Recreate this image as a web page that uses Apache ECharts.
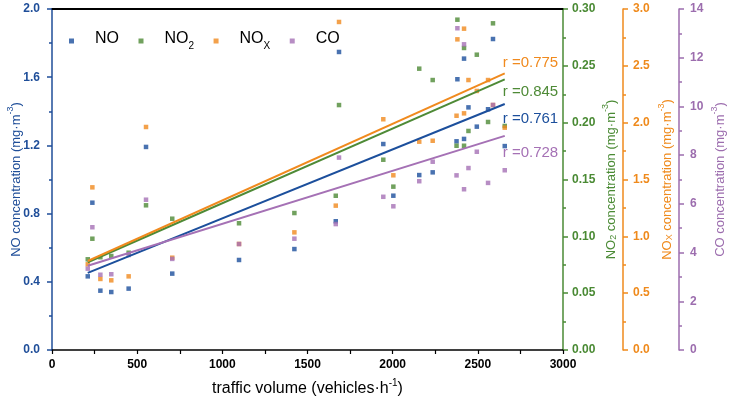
<!DOCTYPE html>
<html>
<head>
<meta charset="utf-8">
<script src="https://cdn.jsdelivr.net/npm/echarts@6/dist/echarts.min.js"></script>
<style>
html,body{margin:0;padding:0;background:#fff;}
#c{width:730px;height:409px;}
</style>
</head>
<body>
<div id="c"></div>
<script>
// ---- data ----
const traffic = [210, 237, 284, 348, 450, 552, 706, 1098, 1423, 1666, 1685, 1945, 2004, 2156, 2235, 2380, 2375, 2419, 2419, 2445, 2494, 2560, 2589, 2658];
const noVals  = [0.432, 0.864, 0.348, 0.340, 0.360, 1.191, 0.448, 0.528, 0.592, 0.755, 1.748, 1.208, 0.905, 1.026, 1.042, 1.588, 1.224, 1.709, 1.238, 1.423, 1.310, 1.412, 1.824, 1.196];
const no2Vals = [0.0798, 0.0979, 0.0816, 0.0827, 0.0856, 0.1273, 0.1155, 0.1115, 0.1205, 0.1357, 0.2155, 0.1674, 0.1437, 0.2475, 0.2375, 0.2906, 0.1797, 0.2657, 0.1797, 0.1927, 0.2598, 0.2006, 0.2874, 0.1971];
const noxVals = [0.754, 1.431, 0.625, 0.613, 0.648, 1.962, 0.812, 0.933, 1.035, 1.270, 2.886, 2.030, 1.537, 1.833, 1.841, 2.733, 2.061, 2.827, 2.082, 2.375, 2.279, 2.375, 2.155, 1.956];
const coVals  = [3.34, 5.04, 3.09, 3.11, 3.90, 6.17, 3.74, 4.35, 4.57, 5.17, 7.90, 6.29, 5.90, 6.93, 7.73, 13.21, 7.17, 12.55, 6.60, 7.47, 8.14, 6.86, 10.06, 7.38];
// fitted lines (start / end values at fitX)
const fitX   = [210, 2658];
const fitNO  = [0.452, 1.443];
const fitNO2 = [0.0772, 0.2381];
const fitNOx = [0.783, 2.434];
const fitCO  = [3.46, 8.79];
const rLabels = ['r =0.761', 'r =0.845', 'r =0.775', 'r =0.728'];
const xTicks = [0, 3000, 500];
// ---------------------------------------

const C_NO = '#1c4f9c', C_NO2 = '#4e8a36', C_NOX = '#f08a1e', C_CO = '#a571b5';
const AX_NO = '#1f4e99', AX_NO2 = '#4a8a34', AX_NOX = '#ef8a1c', AX_CO = '#9c6dae';
const FONT = '"Liberation Sans", Arial, sans-serif';

function pts(xs, ys){ return xs.map((x,i)=>[x, ys[i]]); }

function nameRich(color){
  return {
    a: {color: color, fontSize: 13, fontFamily: FONT, verticalAlign: 'bottom', lineHeight: 18, padding:[0,0,0,0]},
    s: {color: color, fontSize: 9, fontFamily: FONT, verticalAlign: 'bottom', lineHeight: 18, padding:[0,0,0,0]},
    p: {color: color, fontSize: 9, fontFamily: FONT, verticalAlign: 'bottom', lineHeight: 18, padding:[0,0,8,0]}
  };
}

function yAx(opts){
  return Object.assign({
    type: 'value',
    nameLocation: 'middle',
    nameRotate: 90,
    nameMoveOverlap: false,
    splitLine: {show: false},
    axisLine: {show: true, onZero: false, lineStyle: {color: opts.color, width: 1.5}},
    axisTick: {show: true, inside: false, length: 5, lineStyle: {color: opts.color, width: 1.5}},
    minorTick: {show: true, splitNumber: 2, length: 3, lineStyle: {color: opts.color, width: 1.5}},
    axisLabel: {color: opts.color, fontWeight: 'bold', fontSize: 12, fontFamily: FONT, margin: 9},
    nameTextStyle: {rich: nameRich(opts.color)}
  }, opts.extra);
}

function fitSeries(name, vals, yIdx, color, label, dy){
  return {
    name: name + ' fit', type: 'line', yAxisIndex: yIdx, data: pts(fitX, vals),
    symbol: 'none', lineStyle: {color: color, width: 2}, silent: true, z: 3, animation: false,
    endLabel: {show: true, formatter: label, offset: [-2, dy], color: color, fontSize: 15, fontFamily: FONT, distance: 0}
  };
}

const chart = echarts.init(document.getElementById('c'), null, {renderer: 'canvas'});
chart.setOption({
  animation: false,
  backgroundColor: '#fff',
  grid: {left: 52, right: 167, top: 9, bottom: 59, containLabel: false, outerBoundsMode: 'none'},
  legend: {
    left: 64, top: 11, itemWidth: 5, itemHeight: 5, itemGap: 19.5, icon: 'rect',
    data: ['NO', 'NO2', 'NOx', 'CO'],
    formatter: function(n){
      if (n === 'NO2') return '{t|NO}{s|2}';
      if (n === 'NOx') return '{t|NO}{s|X}';
      return '{t|' + n + '}';
    },
    textStyle: {
      rich: {
        t: {fontSize: 16, fontFamily: FONT, color: '#000', verticalAlign: 'bottom', lineHeight: 20, padding: [15,0,4,16]},
        s: {fontSize: 10, fontFamily: FONT, color: '#000', verticalAlign: 'bottom', lineHeight: 20, padding: [0,0,0,0]}
      }
    }
  },
  xAxis: [{
    type: 'value', min: xTicks[0], max: xTicks[1], interval: xTicks[2],
    name: '{a|traffic volume (vehicles·h}{p|-1}{a|)}',
    nameLocation: 'middle', nameGap: 27, nameMoveOverlap: false,
    nameTextStyle: {rich: {
      a: {fontSize: 16, fontFamily: FONT, color: '#000', verticalAlign: 'bottom', lineHeight: 20},
      p: {fontSize: 10, fontFamily: FONT, color: '#000', verticalAlign: 'bottom', lineHeight: 20, padding: [0,0,9,0]}
    }},
    splitLine: {show: false},
    axisLine: {onZero: false, lineStyle: {color: '#000', width: 1.5}},
    axisTick: {length: 4, lineStyle: {color: '#000', width: 1.2}},
    minorTick: {show: true, splitNumber: 2, length: 4, lineStyle: {color: '#000', width: 1.2}},
    axisLabel: {color: '#000', fontWeight: 'bold', fontSize: 12, fontFamily: FONT, margin: 9, formatter: v => String(v)}
  }, {
    type: 'value', position: 'top', min: xTicks[0], max: xTicks[1], interval: xTicks[2],
    splitLine: {show: false}, axisTick: {show: false}, axisLabel: {show: false},
    axisLine: {show: true, onZero: false, lineStyle: {color: '#000', width: 2}}
  }],
  yAxis: [
    yAx({color: AX_NO, extra: {position: 'left', min: 0, max: 2.0, interval: 0.4,
      name: '{a|NO concentration (mg·m}{p|-3}{a|)}', nameGap: 29,
      axisLabel: {color: AX_NO, fontWeight: 'bold', fontSize: 12, fontFamily: FONT, margin: 12, formatter: v => v.toFixed(1)}}}),
    yAx({color: AX_NO2, extra: {position: 'right', offset: 0, min: 0, max: 0.30, interval: 0.05,
      name: '{a|NO}{s|2}{a| concentration (mg·m}{p|-3}{a|)}', nameGap: 37,
      axisLabel: {color: AX_NO2, fontWeight: 'bold', fontSize: 12, fontFamily: FONT, margin: 9, formatter: v => v.toFixed(2)}}}),
    yAx({color: AX_NOX, extra: {position: 'right', offset: 60, min: 0, max: 3.0, interval: 0.5,
      name: '{a|NO}{s|X}{a| concentration (mg·m}{p|-3}{a|)}', nameGap: 33,
      axisLabel: {color: AX_NOX, fontWeight: 'bold', fontSize: 12, fontFamily: FONT, margin: 10, formatter: v => v.toFixed(1)}}}),
    yAx({color: AX_CO, extra: {position: 'right', offset: 116, min: 0, max: 14, interval: 2,
      name: '{a|CO concentration (mg·m}{p|-3}{a|)}', nameGap: 30,
      axisLabel: {color: AX_CO, fontWeight: 'bold', fontSize: 12, fontFamily: FONT, margin: 11, formatter: v => String(v)}}})
  ],
  series: [
    {name: 'NO', type: 'scatter', yAxisIndex: 0, data: pts(traffic, noVals), symbol: 'rect', symbolSize: 4.5, itemStyle: {color: C_NO}, z: 2},
    {name: 'NO2', type: 'scatter', yAxisIndex: 1, data: pts(traffic, no2Vals), symbol: 'rect', symbolSize: 4.5, itemStyle: {color: C_NO2}, z: 2},
    {name: 'NOx', type: 'scatter', yAxisIndex: 2, data: pts(traffic, noxVals), symbol: 'rect', symbolSize: 4.5, itemStyle: {color: C_NOX}, z: 2},
    {name: 'CO', type: 'scatter', yAxisIndex: 3, data: pts(traffic, coVals), symbol: 'rect', symbolSize: 4.5, itemStyle: {color: C_CO}, z: 2},
    fitSeries('NO', fitNO, 0, C_NO, rLabels[0], 15),
    fitSeries('NO2', fitNO2, 1, C_NO2, rLabels[1], 12),
    fitSeries('NOx', fitNOx, 2, C_NOX, rLabels[2], -10),
    fitSeries('CO', fitCO, 3, C_CO, rLabels[3], 17)
  ]
});
</script>
</body>
</html>
